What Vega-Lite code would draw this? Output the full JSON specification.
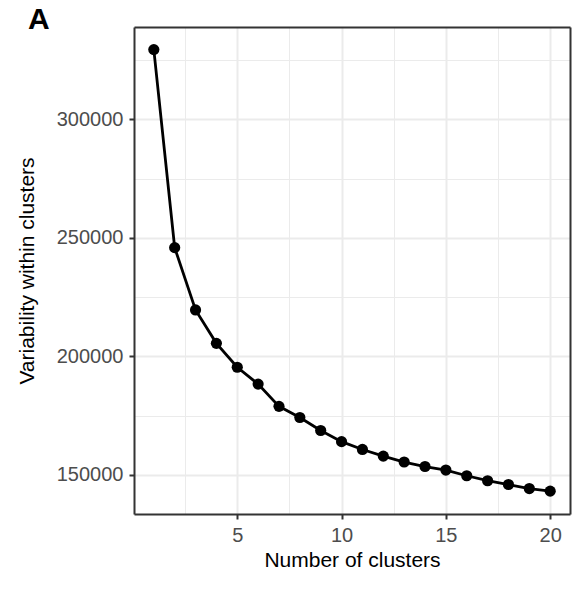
{
  "$schema": "https://vega.github.io/schema/vega-lite/v6.json",
  "width": 436,
  "height": 487,
  "autosize": {"type": "none"},
  "padding": {"left": 134, "top": 27, "right": 10, "bottom": 75},
  "background": "white",
  "title": {
    "text": "A",
    "anchor": "start",
    "frame": "group",
    "font": "Liberation Sans",
    "fontSize": 30,
    "fontWeight": "bold",
    "color": "black",
    "dx": -106,
    "offset": 0,
    "baseline": "alphabetic",
    "dy": 32
  },
  "data": {
    "values": [
      {"k": 1, "wss": 329500},
      {"k": 2, "wss": 245900},
      {"k": 3, "wss": 219600},
      {"k": 4, "wss": 205500},
      {"k": 5, "wss": 195400},
      {"k": 6, "wss": 188300},
      {"k": 7, "wss": 178900},
      {"k": 8, "wss": 174200},
      {"k": 9, "wss": 168700},
      {"k": 10, "wss": 164000},
      {"k": 11, "wss": 160700},
      {"k": 12, "wss": 157900},
      {"k": 13, "wss": 155400},
      {"k": 14, "wss": 153500},
      {"k": 15, "wss": 152000},
      {"k": 16, "wss": 149600},
      {"k": 17, "wss": 147500},
      {"k": 18, "wss": 145900},
      {"k": 19, "wss": 144200},
      {"k": 20, "wss": 143100}
    ]
  },
  "resolve": {"axis": {"x": "independent", "y": "independent"}},
  "layer": [
    {
      "encoding": {
        "x": {
          "field": "k",
          "type": "quantitative",
          "scale": {"domain": [0.05, 20.95], "nice": false, "zero": false},
          "axis": {
            "title": "Number of clusters",
            "values": [2.5, 5, 7.5, 10, 12.5, 15, 17.5, 20],
            "labelExpr": "datum.value % 5 === 0 ? datum.label : ''",
            "tickOpacity": {"condition": {"test": "datum.value % 5 === 0", "value": 1}, "value": 0},
            "gridWidth": {"condition": {"test": "datum.value % 5 === 0", "value": 2}, "value": 1},
            "titlePadding": 4
          }
        },
        "y": {
          "field": "wss",
          "type": "quantitative",
          "scale": {"domain": [133455, 339045], "nice": false, "zero": false},
          "axis": {
            "title": "Variability within clusters",
            "format": "d",
            "values": [150000, 175000, 200000, 225000, 250000, 275000, 300000, 325000],
            "labelExpr": "datum.value % 50000 === 0 ? datum.label : ''",
            "tickOpacity": {"condition": {"test": "datum.value % 50000 === 0", "value": 1}, "value": 0},
            "gridWidth": {"condition": {"test": "datum.value % 50000 === 0", "value": 2}, "value": 1},
            "titlePadding": 19
          }
        }
      },
      "layer": [
        {"mark": {"type": "line", "color": "black", "strokeWidth": 2.8}},
        {"mark": {"type": "circle", "color": "black", "size": 125, "opacity": 1}}
      ]
    },
    {
      "mark": {"type": "point", "opacity": 0},
      "encoding": {
        "x": {
          "field": "k",
          "type": "quantitative",
          "axis": {"orient": "top", "domain": true, "labels": false, "ticks": false, "grid": false, "title": null}
        },
        "y": {
          "field": "wss",
          "type": "quantitative",
          "axis": {"orient": "right", "domain": true, "labels": false, "ticks": false, "grid": false, "title": null}
        }
      }
    }
  ],
  "config": {
    "view": {"stroke": null},
    "axis": {
      "domain": true,
      "domainColor": "#333333",
      "domainWidth": 2,
      "grid": true,
      "gridColor": "#EBEBEB",
      "tickColor": "#333333",
      "tickWidth": 2,
      "tickSize": 5,
      "labelFont": "Liberation Sans",
      "labelFontSize": 20,
      "labelColor": "#4D4D4D",
      "labelPadding": 6,
      "titleFont": "Liberation Sans",
      "titleFontSize": 21,
      "titleFontWeight": "normal",
      "titleColor": "black"
    }
  }
}
